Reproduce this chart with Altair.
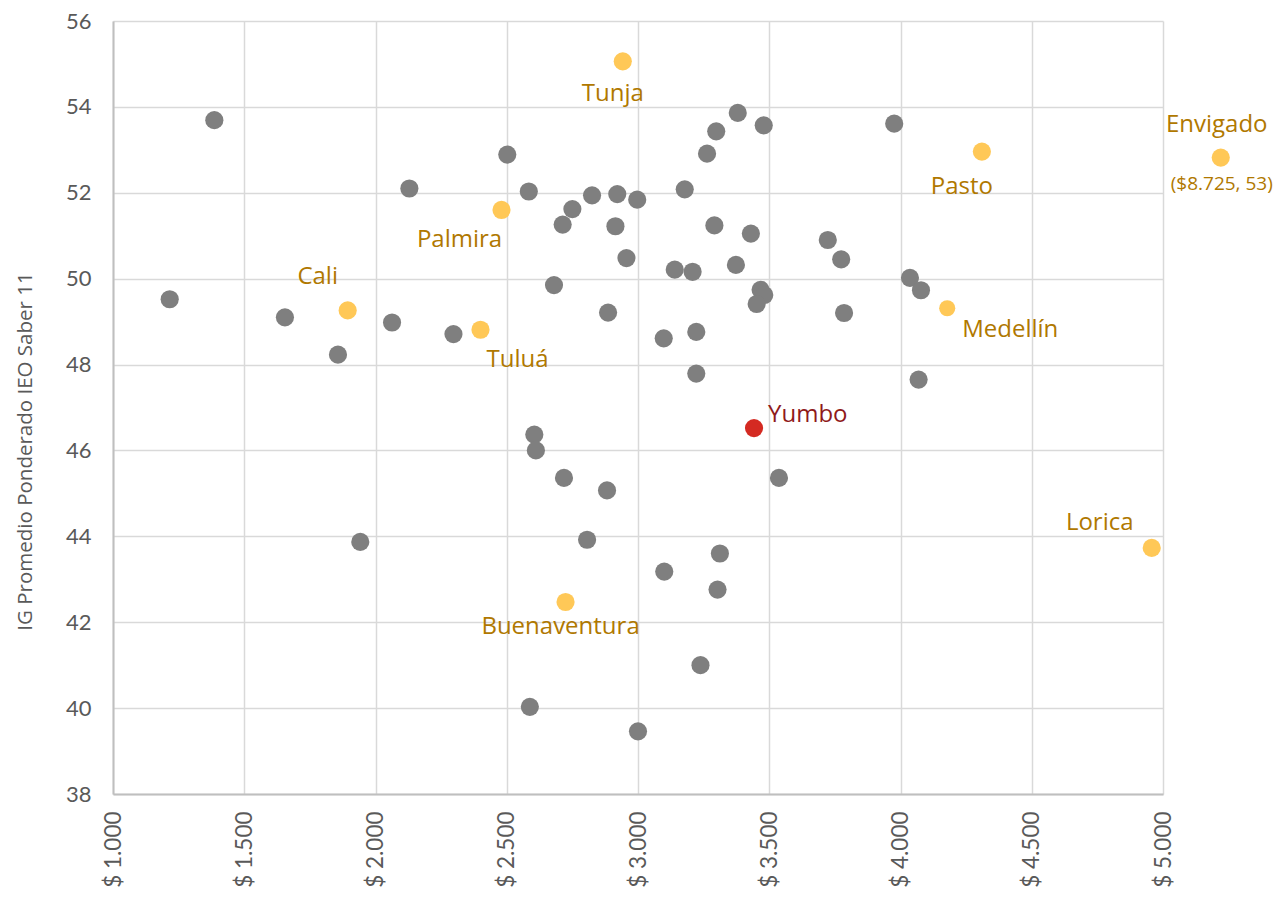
import altair as alt
import pandas as pd

# Other municipalities (gray)
gray_x = [1216, 1386, 1655, 1857, 2063, 1942, 2129, 2297, 2502, 2584,
          2713, 2750, 2825, 2921, 2997, 2914, 2956, 2680, 2886, 3098,
          3222, 3222, 3140, 3208, 3178, 3263, 3298, 3380, 3479, 3291,
          3430, 3373, 3467, 3481, 3452, 3723, 3774, 3785, 3976, 4036,
          4078, 4069, 2605, 2611, 2718, 2882, 3537, 2806, 3312, 3100,
          3303, 3238, 2588, 3000]
gray_y = [49.52, 53.69, 49.10, 48.23, 48.98, 43.87, 52.10, 48.71, 52.89, 52.03,
          51.26, 51.62, 51.94, 51.97, 51.84, 51.22, 50.48, 49.85, 49.21, 48.61,
          48.76, 47.79, 50.21, 50.16, 52.08, 52.91, 53.43, 53.86, 53.57, 51.24,
          51.05, 50.32, 49.74, 49.62, 49.41, 50.90, 50.45, 49.20, 53.61, 50.02,
          49.73, 47.65, 46.37, 46.00, 45.36, 45.07, 45.36, 43.92, 43.60, 43.18,
          42.76, 41.00, 40.03, 39.46]

# Highlighted cities (Envigado drawn just past the axis end; real value in note)
hl_names = ["Tunja", "Palmira", "Cali", "Tuluá", "Buenaventura",
            "Pasto", "Envigado", "Medellín", "Lorica"]
hl_x = [2942, 2480, 1894, 2400, 2724, 4310, 5220, 4178, 4957]
hl_y = [55.06, 51.60, 49.26, 48.81, 42.47, 52.96, 52.82, 49.31, 43.73]
envigado_note = "($8.725, 53)"

# Yumbo
focus_name = ["Yumbo"]
focus_x = [3442]
focus_y = [46.52]

x_ticks = [1000, 1500, 2000, 2500, 3000, 3500, 4000, 4500, 5000]
y_ticks = [38, 40, 42, 44, 46, 48, 50, 52, 54, 56]

gray_df = pd.DataFrame({"x": gray_x, "y": gray_y})
hl_df = pd.DataFrame({"name": hl_names, "x": hl_x, "y": hl_y})
focus_df = pd.DataFrame({"name": focus_name, "x": focus_x, "y": focus_y})

GRAY = "#7F7F7F"
YELLOW = "#FFC857"
GOLD = "#B07800"
RED = "#D42A22"
DARKRED = "#8F1A1A"
TICK_FONT = "Lato"
ANN_FONT = "Open Sans"

xs = alt.Scale(domain=[1000, 5000], nice=False, zero=False)
ys = alt.Scale(domain=[38, 56], nice=False, zero=False)

x_enc = alt.X("x:Q", scale=xs, axis=alt.Axis(
    values=x_ticks, title=None, labelAngle=270, ticks=False, labelPadding=17,
    labelExpr="'$ ' + replace(format(datum.value, ','), ',', '.')",
    labelFont=TICK_FONT, labelFontSize=22.5, labelColor="#595959",
    gridColor="#D9D9D9", gridWidth=1.5, domainColor="#BFBFBF", domainWidth=2))
y_enc = alt.Y("y:Q", scale=ys, axis=alt.Axis(
    values=y_ticks, title="IG Promedio Ponderado IEO Saber 11", ticks=False,
    labelPadding=22, labelFont=TICK_FONT, labelFontSize=22, labelColor="#595959",
    titleFont="Open Sans", titleFontSize=20.5, titleFontWeight="normal",
    titleColor="#595959", titlePadding=30, titleY=430,
    gridColor="#D9D9D9", gridWidth=1.5, domainColor="#BFBFBF", domainWidth=2))

gray_pts = alt.Chart(gray_df).mark_circle(size=330, color=GRAY, opacity=1).encode(x=x_enc, y=y_enc)

hl_pts = alt.Chart(hl_df).mark_circle(color=YELLOW, opacity=1).encode(
    x="x:Q", y="y:Q",
    size=alt.condition(alt.datum.name == "Medellín", alt.value(260), alt.value(330)))

focus_pt = alt.Chart(focus_df).mark_circle(size=330, color=RED, opacity=1).encode(x="x:Q", y="y:Q")

offsets = {
    "Tunja": (-10, 33),
    "Palmira": (-42, 30),
    "Cali": (-30, -33),
    "Tuluá": (37, 30),
    "Buenaventura": (-5, 25),
    "Pasto": (-20, 35),
    "Envigado": (-4, -33),
    "Medellín": (63, 22),
    "Lorica": (-52, -25),
}

layers = [gray_pts, hl_pts, focus_pt]
for nm, (dx, dy) in offsets.items():
    layers.append(
        alt.Chart(hl_df).transform_filter(alt.datum.name == nm).mark_text(
            dx=dx, dy=dy, font=ANN_FONT, fontSize=24, color=GOLD
        ).encode(x="x:Q", y="y:Q", text="name:N"))

note_df = hl_df[hl_df["name"] == "Envigado"].assign(note=envigado_note)
layers.append(
    alt.Chart(note_df).mark_text(dx=1, dy=26, font=ANN_FONT, fontSize=19, color=GOLD)
    .encode(x="x:Q", y="y:Q", text="note:N"))

layers.append(
    alt.Chart(focus_df).mark_text(dx=14, dy=-13, align="left", font=ANN_FONT,
                                  fontSize=24, color=DARKRED)
    .encode(x="x:Q", y="y:Q", text="name:N"))

chart = alt.layer(*layers).properties(
    width=1050, height=773,
    autosize=alt.AutoSizeParams(type="none"),
    padding={"left": 105, "top": 13, "right": 115, "bottom": 94},
).configure_view(stroke=None)

chart.save("out.html", embed_options={"renderer": "svg", "actions": False})
